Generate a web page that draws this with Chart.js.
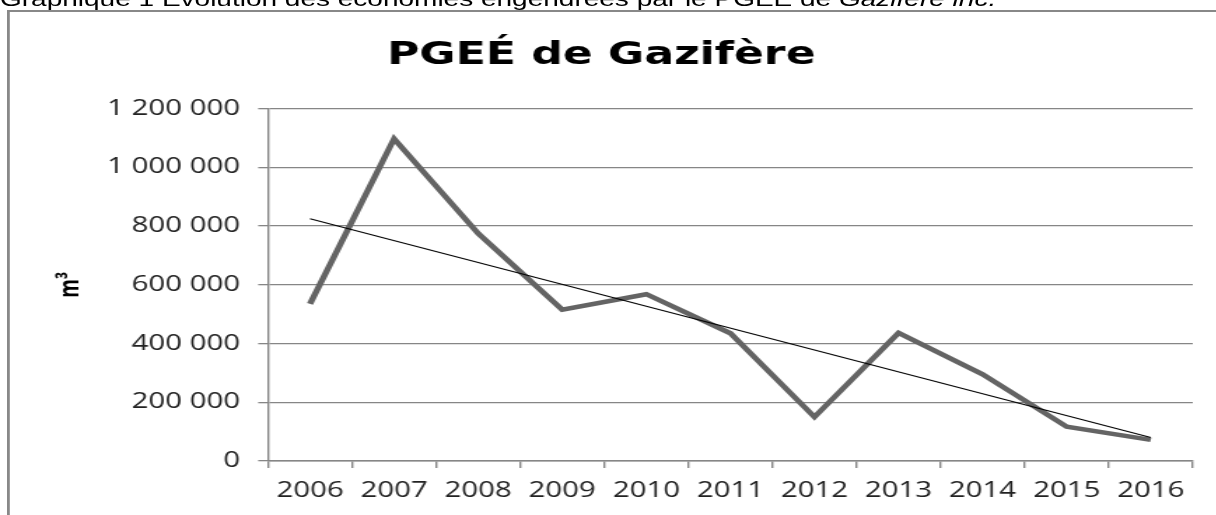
<!DOCTYPE html>
<html lang="fr">
<head>
<meta charset="utf-8">
<title>PGEÉ de Gazifère</title>
<script src="https://cdn.jsdelivr.net/npm/chart.js@4"></script>
<style>
    html, body { margin: 0; padding: 0; background: #fff; overflow: hidden; }
    /* la imagen original está estirada en horizontal */
    #page { position: relative; width: 869px; height: 515px; transform: scaleX(1.4); transform-origin: 0 0; }
    #caption { position: absolute; left: 0; top: -11px; font: 20px/20px 'Liberation Sans', Arial, sans-serif; color: #000; white-space: nowrap; }
    #frame { position: absolute; left: 5px; top: 10px; width: 900px; height: 520px; border-left: 2px solid #888; border-top: 2px solid #888; }
    #chartBox { position: absolute; left: 7px; top: 12px; width: 872px; height: 503px; }
</style>
</head>
<body>
<div id="page">
    <div id="caption">Graphique 1 Évolution des économies engendrées par le PGEÉ de <i>Gazifère inc.</i></div>
    <div id="frame"></div>
    <div id="chartBox"><canvas id="chart"></canvas></div>
</div>
<script>
// Datos
const years = ['2006', '2007', '2008', '2009', '2010', '2011', '2012', '2013', '2014', '2015', '2016'];
const savings = [535000, 1097000, 775000, 515000, 568000, 435000, 150000, 436000, 295000, 117000, 72000];
// línea de tendencia: solo los extremos
const trend = [825000, null, null, null, null, null, null, null, null, null, 80000];
const yTicks = [0, 200000, 400000, 600000, 800000, 1000000, 1200000];
const yTickLabels = ['0', '200 000', '400 000', '600 000', '800 000', '1 000 000', '1 200 000'];

const gridGray = '#868686';
const tickFont = { family: "'Open Sans', sans-serif", size: 21 };

const ctx = document.getElementById('chart').getContext('2d');
new Chart(ctx, {
    type: 'line',
    data: {
        labels: years,
        datasets: [
            {
                label: 'Tendance',
                data: trend,
                borderColor: '#000',
                borderWidth: 1.1,
                pointRadius: 0,
                spanGaps: true,
                order: 0
            },
            {
                label: 'Économies (m³)',
                data: savings,
                borderColor: '#646464',
                borderWidth: 4.5,
                pointRadius: 0,
                order: 1
            }
        ]
    },
    options: {
        responsive: true,
        maintainAspectRatio: false,
        animation: false,
        layout: { padding: { left: 0, right: 27, top: 0, bottom: 0 } },
        plugins: {
            legend: { display: false },
            tooltip: { enabled: false },
            title: {
                display: true,
                text: 'PGEÉ de Gazifère',
                color: '#000',
                font: { family: "'DejaVu Sans', sans-serif", size: 31.5, weight: 'bold' },
                padding: { top: 24.7, bottom: 34.1 }
            }
        },
        scales: {
            x: {
                offset: true,
                grid: { offset: true, drawOnChartArea: false, tickLength: 7, color: gridGray, lineWidth: 1.4 },
                border: { color: gridGray, width: 1.4 },
                ticks: { color: '#222', font: tickFont, padding: 10, maxRotation: 0, autoSkip: false },
                afterFit: scale => { scale.height = 54; }
            },
            y: {
                min: 0,
                max: 1200000,
                afterBuildTicks: scale => { scale.ticks = yTicks.map(v => ({ value: v })); },
                grid: { color: gridGray, lineWidth: 1.3, tickLength: 7 },
                border: { color: gridGray, width: 1.4 },
                ticks: { color: '#222', font: tickFont, padding: 13, callback: (v, i) => yTickLabels[i] },
                title: {
                    display: true,
                    text: 'm³',
                    color: '#000',
                    font: { family: "'Open Sans', sans-serif", size: 19, weight: 'bold' },
                    padding: { top: 32, bottom: 0 }
                },
                afterFit: scale => { scale.width = 184.4; }
            }
        }
    }
});
</script>
</body>
</html>
